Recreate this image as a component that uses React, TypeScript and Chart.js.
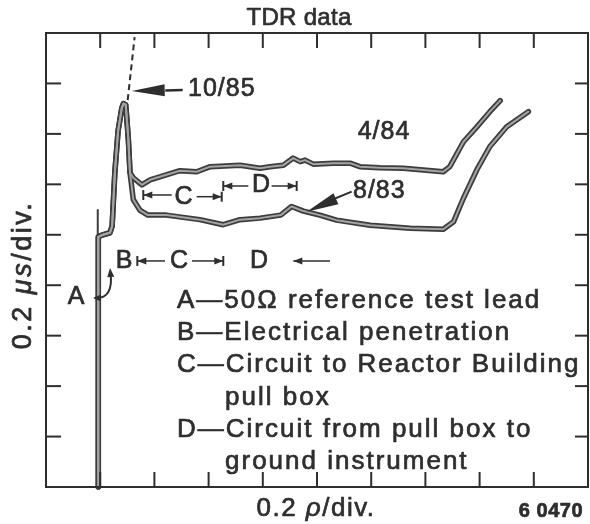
import React, { useEffect, useRef } from "react";
import { Chart, registerables } from "chart.js";

Chart.register(...registerables);

// ---- axis divisions (no printed labels, only inward ticks) ----
const xTickValues = [1, 2, 3, 4, 5, 6, 7, 8, 9];
const yTickValues = [1, 2, 3, 4, 5, 6, 7, 8];
const X_MIN = 0;
const X_MAX = 10;
const Y_MIN = 0;
const Y_MAX = 9;

// ---- shared start of the traces (lead A, penetration B, reflection peak) ----
const commonX = [0.965, 0.965, 1.05, 1.18, 1.22, 1.27, 1.33, 1.40, 1.43, 1.47, 1.49, 1.52, 1.55];
const commonY = [0, 4.96, 5.0, 5.04, 5.17, 6.23, 7.06, 7.52, 7.6, 7.58, 7.32, 6.88, 6.23];

// ---- 4/84 trace ----
const trace484X = [1.61, 1.77, 1.92, 2.1, 2.47, 2.78, 3.03, 3.58, 3.95, 4.13, 4.38, 4.56, 4.69, 4.78, 4.93, 5.3, 5.61, 5.79, 6.16, 6.59, 7.33, 7.45, 7.7, 7.95, 8.19, 8.38];
const trace484Y = [6.13, 5.99, 6.09, 6.15, 6.27, 6.25, 6.35, 6.38, 6.32, 6.35, 6.38, 6.52, 6.45, 6.48, 6.4, 6.42, 6.42, 6.35, 6.33, 6.32, 6.25, 6.35, 6.84, 7.14, 7.44, 7.66];

// ---- 8/83 trace ----
const trace883X = [1.61, 1.73, 1.88, 2.22, 2.84, 3.27, 3.58, 3.95, 4.33, 4.53, 4.75, 5.05, 5.36, 5.98, 6.72, 7.33, 7.52, 7.7, 7.95, 8.19, 8.5, 8.9];
const trace883Y = [5.7, 5.49, 5.39, 5.39, 5.3, 5.2, 5.3, 5.33, 5.39, 5.56, 5.47, 5.39, 5.29, 5.19, 5.13, 5.11, 5.26, 5.72, 6.29, 6.75, 7.14, 7.44];

// ---- 10/85 trace (dashed, off scale) ----
const trace1085X = [1.507, 1.635];
const trace1085Y = [7.67, 8.92];

// ---- thin spike at the lead end ----
const spikeX = [0.955, 0.955];
const spikeY = [4.9, 5.49];

// ---- texts ----
const chartTitle = "TDR data";
const xTitle = [{ t: "0.2 " }, { t: "ρ", it: true }, { t: "/div." }];
const yTitle = [{ t: "0.2 " }, { t: "μs", it: true }, { t: "/div." }];
const figureNo = "6 0470";
const legendLines = [
  "A—50Ω reference test lead",
  "B—Electrical penetration",
  "C—Circuit to Reactor Building",
  "pull box",
  "D—Circuit from pull box to",
  "ground instrument",
];
const legendIndent = [false, false, false, true, false, true];

const INK = "#2e2e2e";
const TRACE_DARK = "#3d3d3d";
const TRACE_LIGHT = "#a4a4a4";
const FONT = '"Liberation Sans", Arial, Helvetica, sans-serif';

const zip = (xs: number[], ys: number[]) => xs.map((x, i) => ({ x, y: ys[i] }));

const annotate = {
  id: "annotate",
  afterDraw(chart: any) {
    const { ctx, chartArea: a, scales } = chart;
    const X = (v: number) => scales.x.getPixelForValue(v);
    const Y = (v: number) => scales.y.getPixelForValue(v);
    ctx.save();
    ctx.strokeStyle = INK;
    ctx.fillStyle = INK;
    ctx.lineCap = "butt";

    const line = (x1: number, y1: number, x2: number, y2: number, w = 2) => {
      ctx.lineWidth = w;
      ctx.beginPath();
      ctx.moveTo(x1, y1);
      ctx.lineTo(x2, y2);
      ctx.stroke();
    };
    const head = (tx: number, ty: number, fx: number, fy: number, len: number, hw: number) => {
      const ang = Math.atan2(ty - fy, tx - fx);
      const bx = tx - len * Math.cos(ang);
      const by = ty - len * Math.sin(ang);
      ctx.beginPath();
      ctx.moveTo(tx, ty);
      ctx.lineTo(bx + hw * Math.sin(ang), by - hw * Math.cos(ang));
      ctx.lineTo(bx - hw * Math.sin(ang), by + hw * Math.cos(ang));
      ctx.closePath();
      ctx.fill();
    };
    const arrow = (fx: number, fy: number, tx: number, ty: number, len: number, hw: number, w: number) => {
      line(fx, fy, tx, ty, w);
      head(tx, ty, fx, fy, len, hw);
    };
    const setLS = (v: string) => {
      try { (ctx as any).letterSpacing = v; } catch (e) {}
    };
    const paint = (s: string, x: number, y: number) => {
      ctx.lineWidth = 0.7;
      ctx.lineJoin = "round";
      ctx.strokeText(s, x, y);
      ctx.fillText(s, x, y);
    };
    const text = (s: string, x: number, y: number, font: string, align: string, ls = "2px", base = "alphabetic") => {
      ctx.font = font;
      setLS(ls);
      ctx.textAlign = align;
      ctx.textBaseline = base;
      paint(s, x, y);
      setLS("0px");
    };
    const runs = (parts: { t: string; it?: boolean }[], cx: number, y: number, size: number, ls: string) => {
      setLS(ls);
      ctx.textBaseline = "alphabetic";
      ctx.textAlign = "left";
      const widths = parts.map((p) => {
        ctx.font = `${p.it ? "italic " : ""}${size}px ${FONT}`;
        return ctx.measureText(p.t).width;
      });
      let x = cx - widths.reduce((s, w) => s + w, 0) / 2;
      parts.forEach((p, i) => {
        ctx.font = `${p.it ? "italic " : ""}${size}px ${FONT}`;
        paint(p.t, x, y);
        x += widths[i];
      });
      setLS("0px");
    };

    // frame
    ctx.lineWidth = 2;
    ctx.strokeRect(a.left, a.top, a.right - a.left, a.bottom - a.top);
    // inward ticks
    xTickValues.forEach((v) => {
      const px = X(v);
      line(px, a.top, px, a.top + 15);
      line(px, a.bottom, px, a.bottom - 15);
    });
    yTickValues.forEach((v) => {
      const py = Y(v);
      line(a.left, py, a.left + 15, py);
      line(a.right, py, a.right - 13, py);
    });

    // titles
    text(chartTitle, 299, 25, `24px ${FONT}`, "center", "0.3px");
    runs(xTitle, 316, 516, 26, "1.5px");
    ctx.save();
    ctx.translate(31, 275);
    ctx.rotate(-Math.PI / 2);
    runs(yTitle, 0, 0, 27, "2.5px");
    ctx.restore();
    text(figureNo, 583, 517, `bold 20px ${FONT}`, "right", "0.5px");

    // 10/85 label + arrow
    text("10/85", X(2.62), Y(7.89), `25px ${FONT}`, "left", "1px", "middle");
    line(X(2.522), Y(7.87), X(2.2), Y(7.86), 2.5);
    head(X(1.581), Y(7.85), X(2.522), Y(7.87), 33, 6);
    // 4/84 label
    text("4/84", X(6.236), Y(7.04), `25px ${FONT}`, "center", "1px", "middle");
    // 8/83 label + arrow
    text("8/83", X(5.664), Y(5.87), `25px ${FONT}`, "left", "1px", "middle");
    line(X(5.64), Y(5.855), X(5.2), Y(5.66), 2);
    head(X(4.81), Y(5.458), X(5.64), Y(5.855), 32, 6);

    const small = `25px ${FONT}`;
    const bar = (v: number, yv: number) => line(X(v), Y(yv) - 5, X(v), Y(yv) + 5, 2);
    // upper C / D dimension markers
    bar(1.795, 5.789);
    arrow(X(2.319), Y(5.789), X(1.795), Y(5.789), 9, 3.5, 1.5);
    text("C", X(2.537), Y(5.739), small, "center", "0px", "middle");
    arrow(X(2.78), Y(5.755), X(3.242), Y(5.755), 9, 3.5, 1.5);
    bar(3.242, 5.755);
    bar(3.271, 5.967);
    arrow(X(3.733), Y(5.967), X(3.271), Y(5.967), 9, 3.5, 1.5);
    text("D", X(3.967), Y(5.987), small, "center", "0px", "middle");
    arrow(X(4.164), Y(5.967), X(4.625), Y(5.967), 9, 3.5, 1.5);
    bar(4.625, 5.967);

    // lower B / C / D row
    text("B", X(1.439), Y(4.481), small, "center", "0px", "middle");
    bar(1.685, 4.481);
    arrow(X(2.196), Y(4.481), X(1.685), Y(4.481), 9, 3.5, 1.5);
    text("C", X(2.454), Y(4.481), small, "center", "0px", "middle");
    arrow(X(2.694), Y(4.481), X(3.271), Y(4.481), 9, 3.5, 1.5);
    bar(3.271, 4.481);
    text("D", X(3.93), Y(4.481), small, "center", "0px", "middle");
    arrow(X(5.24), Y(4.481), X(4.563), Y(4.481), 9, 3.5, 1.5);

    // A label and curved arrow
    text("A", X(0.554), Y(3.767), small, "center", "0px", "middle");
    ctx.lineWidth = 2;
    ctx.beginPath();
    ctx.moveTo(X(0.9), Y(3.747));
    ctx.quadraticCurveTo(X(1.25), Y(3.72), X(1.19), Y(4.25));
    ctx.stroke();
    head(X(0.867), Y(3.747), X(1.0), Y(3.747), 8, 3.5);
    head(X(1.181), Y(4.342), X(1.2), Y(4.1), 9, 3.5);

    // legend text block
    const baselines = [3.549, 2.914, 2.28, 1.626, 0.991, 0.357];
    legendLines.forEach((s, i) => {
      text(s, X(legendIndent[i] ? 3.303 : 2.417), Y(baselines[i]), `26px ${FONT}`, "left", "2px");
    });
    ctx.restore();
  },
};

export default function App() {
  const ref = useRef<HTMLCanvasElement | null>(null);
  useEffect(() => {
    document.body.style.margin = "0";
    const canvas = ref.current;
    if (!canvas) return;
    const common = zip(commonX, commonY);
    const upper = common.concat(zip(trace484X, trace484Y));
    const lower = common.concat(zip(trace883X, trace883Y));
    const base = { pointRadius: 0, tension: 0, fill: false, borderJoinStyle: "round", borderCapStyle: "round" };
    const chart = new Chart(canvas, {
      type: "line",
      data: {
        datasets: [
          { ...base, label: "4/84 core", data: upper, borderColor: TRACE_LIGHT, borderWidth: 2, order: 0 },
          { ...base, label: "8/83 core", data: lower, borderColor: TRACE_LIGHT, borderWidth: 2, order: 0 },
          { ...base, label: "4/84", data: upper, borderColor: TRACE_DARK, borderWidth: 5.5, order: 1 },
          { ...base, label: "8/83", data: lower, borderColor: TRACE_DARK, borderWidth: 5.5, order: 1 },
          { ...base, label: "spike", data: zip(spikeX, spikeY), borderColor: TRACE_DARK, borderWidth: 2, order: 1 },
          { ...base, label: "10/85", data: zip(trace1085X, trace1085Y), borderColor: INK, borderWidth: 2, borderDash: [6, 4], borderCapStyle: "butt", order: 1 },
        ] as any,
      },
      options: {
        animation: false,
        responsive: false,
        maintainAspectRatio: false,
        layout: { padding: { left: 46, right: 2, top: 33, bottom: 37 } },
        plugins: { legend: { display: false }, tooltip: { enabled: false }, title: { display: false } },
        scales: {
          x: { type: "linear", min: X_MIN, max: X_MAX, display: false },
          y: { type: "linear", min: Y_MIN, max: Y_MAX, display: false },
        },
        clip: false,
      } as any,
      plugins: [annotate],
    });
    return () => chart.destroy();
  }, []);
  return (
    <div style={{ width: 590, height: 524, background: "#fff" }}>
      <canvas ref={ref} width={590} height={524} style={{ display: "block", width: 590, height: 524 }} />
    </div>
  );
}
